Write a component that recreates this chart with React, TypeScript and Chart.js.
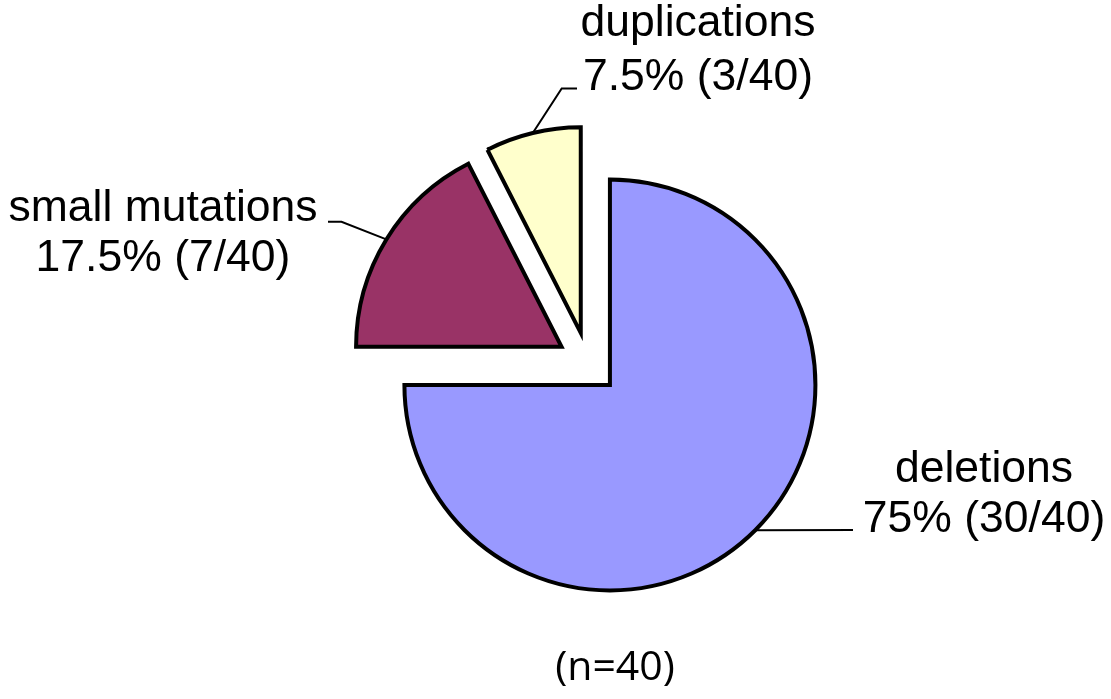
import React, { useEffect, useRef } from 'react';
import { Chart, registerables } from 'chart.js';

Chart.register(...registerables);

// ---- data ----
const categories = ['deletions', 'small mutations', 'duplications'];
const counts = [30, 7, 3];
const totalN = 40;
const colors = ['#9999FF', '#993366', '#FFFFCC'];
const footnote = `(n=${totalN})`;

// ---- layout / style constants ----
const W = 1111;
const H = 699;
const EXPLODE = 31;
const RADIUS = 205.5;
const LABEL_FONT = '44.5px "Liberation Sans", Arial, sans-serif';
const NOTE_FONT = '41px "Open Sans", "Liberation Sans", sans-serif';
// per category: text centre x, baselines, leader path points (after the arc point)
const labelLayout = [
  { x: 984, y1: 482, y2: 532, path: [[853, 530]] },
  { x: 163, y1: 221, y2: 271, path: [[341.5, 221.7], [328, 221.7]] },
  { x: 698, y1: 36, y2: 90, path: [[561.7, 88.5], [577, 88.5]] },
];
const notePos = { x: 615, y: 680 };

const fmtPct = (c: number) => {
  const p = (c / totalN) * 100;
  return `${Number.isInteger(p) ? p.toFixed(0) : p.toFixed(1)}%`;
};

const explodePlugin = {
  id: 'explode',
  afterDatasetsUpdate(chart: any) {
    const meta = chart.getDatasetMeta(0);
    meta.data.forEach((arc: any) => {
      const mid = (arc.startAngle + arc.endAngle) / 2;
      arc.x += Math.cos(mid) * EXPLODE;
      arc.y += Math.sin(mid) * EXPLODE;
    });
  },
};

const labelPlugin = {
  id: 'pieLabels',
  afterDraw(chart: any) {
    const ctx: CanvasRenderingContext2D = chart.ctx;
    const meta = chart.getDatasetMeta(0);
    ctx.save();
    meta.data.forEach((arc: any, i: number) => {
      const lay = labelLayout[i];
      const mid = (arc.startAngle + arc.endAngle) / 2;
      const r = arc.outerRadius;
      const sx = arc.x + Math.cos(mid) * r;
      const sy = arc.y + Math.sin(mid) * r;
      ctx.beginPath();
      ctx.strokeStyle = '#000';
      ctx.lineWidth = 2;
      ctx.lineJoin = 'miter';
      ctx.moveTo(sx, sy);
      lay.path.forEach(([px, py]) => ctx.lineTo(px, py));
      ctx.stroke();

      ctx.fillStyle = '#000';
      ctx.font = LABEL_FONT;
      ctx.textAlign = 'center';
      ctx.textBaseline = 'alphabetic';
      ctx.fillText(categories[i], lay.x, lay.y1);
      ctx.fillText(`${fmtPct(counts[i])} (${counts[i]}/${totalN})`, lay.x, lay.y2);
    });
    ctx.font = NOTE_FONT;
    ctx.textAlign = 'center';
    ctx.fillStyle = '#000';
    ctx.fillText(footnote, notePos.x, notePos.y);
    ctx.restore();
  },
};

export default function App() {
  const ref = useRef<HTMLCanvasElement | null>(null);
  useEffect(() => {
    if (!ref.current) return;
    const chart = new Chart(ref.current, {
      type: 'pie',
      data: {
        labels: categories,
        datasets: [
          {
            data: counts,
            backgroundColor: colors,
            borderColor: '#000',
            borderWidth: 4,
            borderJoinStyle: 'miter',
            radius: RADIUS,
          } as any,
        ],
      },
      options: {
        responsive: false,
        animation: false,
        events: [],
        layout: { padding: { left: 65, right: 0, top: 27, bottom: 0 } },
        plugins: {
          legend: { display: false },
          tooltip: { enabled: false },
          title: { display: false },
        },
      } as any,
      plugins: [explodePlugin, labelPlugin],
    });
    return () => chart.destroy();
  }, []);
  return (
    <div style={{ position: 'absolute', left: 0, top: 0, width: W, height: H, background: '#fff' }}>
      <canvas ref={ref} width={W} height={H} style={{ display: 'block' }} />
    </div>
  );
}
